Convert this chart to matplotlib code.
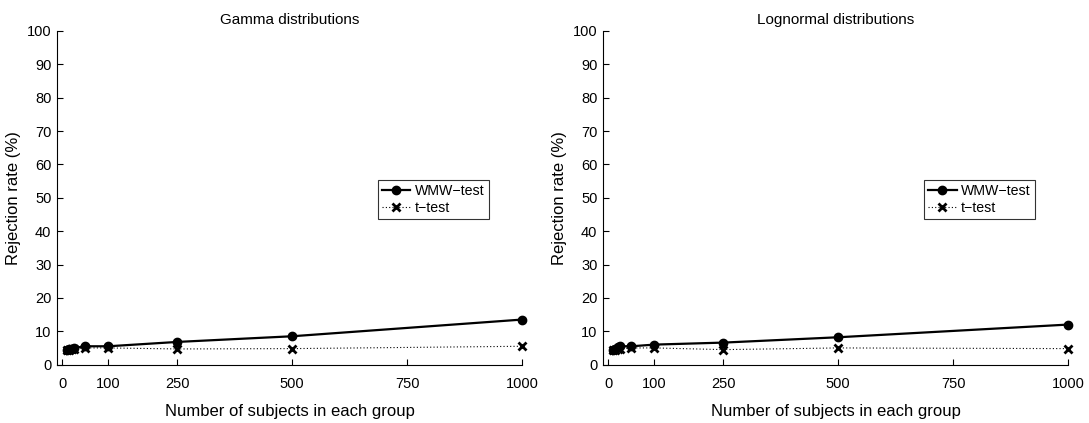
import numpy as np
import matplotlib.pyplot as plt

plt.rcParams['font.family'] = ['Liberation Sans', 'DejaVu Sans']

# Sample sizes per group
n_subjects = [10, 15, 20, 25, 50, 100, 250, 500, 1000]

# Rejection rates (%) - gamma distributions
gamma_wmw = [4.5, 4.6, 4.8, 5.0, 5.5, 5.5, 6.8, 8.5, 13.5]
gamma_t = [4.3, 4.5, 4.7, 4.8, 5.0, 5.0, 4.7, 4.8, 5.5]

# Rejection rates (%) - lognormal distributions
lognorm_wmw = [4.5, 4.8, 5.2, 5.5, 5.5, 6.0, 6.6, 8.2, 12.0]
lognorm_t = [4.3, 4.5, 4.7, 4.8, 5.0, 5.0, 4.5, 5.0, 4.8]

titles = ['Gamma distributions', 'Lognormal distributions']
xticks = [0, 100, 250, 500, 750, 1000]
yticks = np.arange(0, 101, 10)

fig = plt.figure(figsize=(10.89, 4.23), dpi=100)
ax1 = fig.add_axes([0.0523, 0.138, 0.427, 0.789])
ax2 = fig.add_axes([0.5537, 0.138, 0.427, 0.789])

for ax, title, wmw, tt in zip([ax1, ax2], titles,
                              [gamma_wmw, lognorm_wmw],
                              [gamma_t, lognorm_t]):
    ax.plot(n_subjects, wmw, '-o', color='black', linewidth=1.6,
            markersize=6, label='WMW\u2212test', clip_on=False, zorder=3)
    ax.plot(n_subjects, tt, linestyle=(0, (1, 2)), marker='x',
            color='black', linewidth=0.8, markersize=6,
            markeredgewidth=2, label='t\u2212test', clip_on=False)
    ax.set_xlim(-12, 1000)
    ax.set_ylim(0, 100)
    ax.set_xticks(xticks)
    ax.set_yticks(yticks)
    ax.tick_params(direction='in', length=4, labelsize=10.5, width=0.8)
    ax.tick_params(axis='x', pad=9)
    ax.tick_params(axis='y', pad=4)
    ax.spines['top'].set_visible(False)
    ax.spines['right'].set_visible(False)
    ax.set_title(title, fontsize=11, pad=5)
    ax.set_xlabel('Number of subjects in each group', fontsize=12,
                  labelpad=9)
    ax.set_ylabel('Rejection rate (%)', fontsize=12, labelpad=4)
    leg = ax.legend(loc='center left', bbox_to_anchor=(0.675, 0.495),
                    fontsize=10.2, frameon=True, fancybox=False,
                    edgecolor='black', handlelength=2.0,
                    borderpad=0.3, labelspacing=0.2, handletextpad=0.3)
    leg.get_frame().set_linewidth(0.8)

plt.savefig('out.png', dpi=100)
plt.close()
